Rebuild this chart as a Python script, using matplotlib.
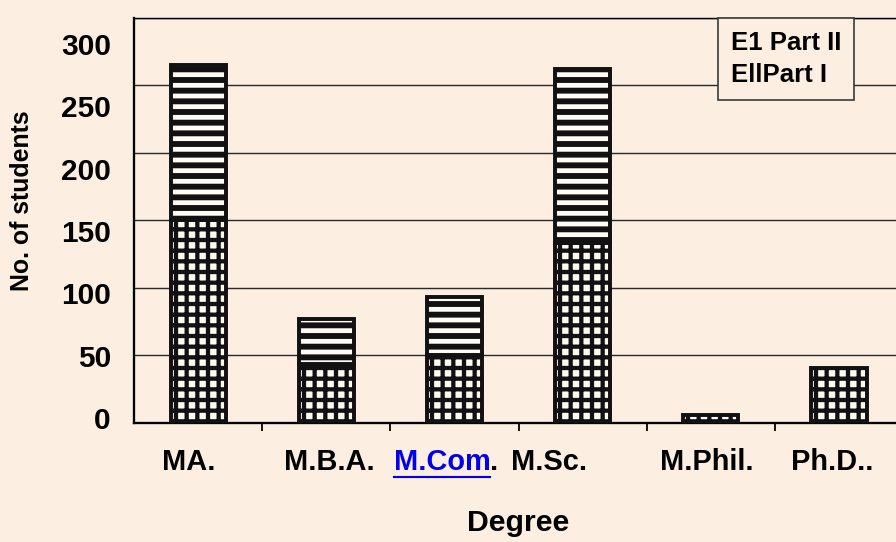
"""Stacked bar chart: number of students per degree, Part I / Part II."""

import matplotlib.pyplot as plt
from matplotlib import font_manager
from matplotlib.lines import Line2D
from matplotlib.transforms import IdentityTransform

# Data
degrees = ["MA.", "M.B.A.", "M.Com", "M.Sc.", "M.Phil.", "Ph.D.."]
part_one = [150, 44, 50, 133, 6, 41]
part_two = [115, 33, 43, 129, 0, 0]
y_ticks = [0, 50, 100, 150, 200, 250, 300]
legend_labels = ["E1 Part II", "EllPart I"]

BG = "#fcefe2"
DPI = 128

installed = {f.name for f in font_manager.fontManager.ttflist}
narrow = ["Liberation Sans Narrow", "Liberation Sans"] if "Liberation Sans Narrow" in installed else ["Liberation Sans"]
plt.rcParams["font.family"] = ["Liberation Sans", "DejaVu Sans"]
plt.rcParams["font.weight"] = "bold"

fig = plt.figure(figsize=(896 / DPI, 542 / DPI), dpi=DPI, facecolor=BG)
ax = fig.add_axes([0.1496, 0.2196, 0.8583, 0.7472])
ax.set_facecolor(BG)

x = list(range(len(degrees)))
bars_one = ax.bar(x, part_one, width=0.43, color="#fffaf3", edgecolor="#111111",
                  linewidth=2.2, hatch="++", zorder=3)
bars_two = ax.bar(x, part_two, width=0.43, bottom=part_one, color="#fffaf3",
                  edgecolor="#111111", linewidth=2.2, hatch="--", zorder=3)
for p in bars_one:
    p.set_hatch_linewidth(2.4)
for p, v in zip(bars_two, part_two):
    p.set_hatch_linewidth(3.3)
    if v == 0:
        p.set_visible(False)

ax.set_xlim(-0.5, 5.5)
ax.set_ylim(0, 300)

# horizontal grid, x ticks at the category boundaries
ax.set_yticks(y_ticks)
ax.yaxis.grid(True, color="#2a2a2a", linewidth=0.8, zorder=1)
ax.tick_params(axis="y", left=False, labelleft=False)
ax.set_xticks([i + 0.5 for i in x])
ax.tick_params(axis="x", direction="out", length=4.5, width=1.0, labelbottom=False)
ax.spines["right"].set_visible(False)
ax.spines["top"].set_linewidth(0.8)
ax.spines["left"].set_linewidth(1.3)
ax.spines["bottom"].set_linewidth(1.3)

# the scanned tick labels sit on a slightly tighter scale than the grid
sec = ax.secondary_yaxis("left", functions=(lambda m: (m - 3.7) / 0.9237,
                                            lambda v: 3.7 + 0.9237 * v))
sec.set_yticks(y_ticks)
sec.tick_params(length=0, pad=13, labelsize=16.8)
sec.spines["left"].set_visible(False)
for t in sec.get_yticklabels():
    t.set_fontweight("bold")

# category labels (positions nudged as in the scan)
label_shift = [-0.07, 0.02, 0.28, -0.26, -0.03, -0.05]
tr = ax.get_xaxis_transform()
com_text = None
for i, (name, dx) in enumerate(zip(degrees, label_shift)):
    if name == "M.Com":
        com_text = ax.text(i + dx, -0.096, name, transform=tr, ha="right", va="center",
                           fontsize=16.3, fontweight="bold", color="#0000ee")
        ax.text(i + dx, -0.096, ".", transform=tr, ha="left", va="center",
                fontsize=16.3, fontweight="bold")
    else:
        ax.text(i + dx, -0.096, name, transform=tr, ha="center", va="center",
                fontsize=16.3, fontweight="bold")

ax.set_xlabel("Degree", fontsize=17, fontweight="bold", va="center")
ax.xaxis.set_label_coords(0.5, -0.247)
ax.set_ylabel("No. of students", fontsize=14, fontweight="bold", va="center")
ax.yaxis.set_label_coords(-0.1456, 0.55)

leg = ax.legend([bars_two, bars_one], legend_labels, loc="upper left",
                bbox_to_anchor=(0.759, 1.0), borderaxespad=0, handlelength=0,
                handletextpad=0, fancybox=False, framealpha=1, facecolor=BG,
                edgecolor="#333333", borderpad=0.5, labelspacing=0.3,
                prop={"family": narrow, "weight": "bold", "size": 14.5})
leg.get_frame().set_linewidth(0.9)
for h in leg.legend_handles:
    h.set_visible(False)

# underline the blue "M.Com"
fig.canvas.draw()
bb = com_text.get_window_extent()
fig.add_artist(Line2D([bb.x0, bb.x1], [bb.y0 - 1, bb.y0 - 1], transform=IdentityTransform(),
                      color="#0000ee", linewidth=1.2))

fig.savefig("out.png", dpi=DPI, facecolor=BG)
